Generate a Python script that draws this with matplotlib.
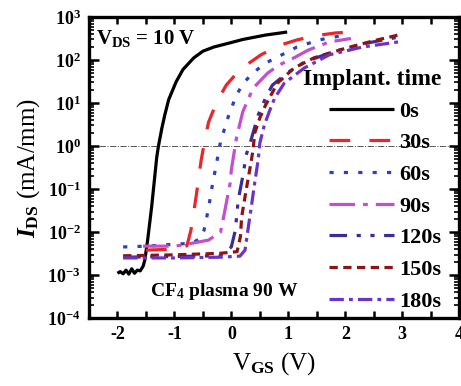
import numpy as np
import matplotlib
matplotlib.use('Agg')
import matplotlib.pyplot as plt
from matplotlib.ticker import MultipleLocator, LogLocator, FixedLocator, NullFormatter

plt.rcParams['font.family'] = 'Liberation Serif'
plt.rcParams['font.weight'] = 'bold'
plt.rcParams['mathtext.fontset'] = 'custom'
plt.rcParams['mathtext.rm'] = 'Liberation Serif:bold'
plt.rcParams['mathtext.it'] = 'Liberation Serif:italic:bold'
plt.rcParams['mathtext.bf'] = 'Liberation Serif:bold'
plt.rcParams['mathtext.default'] = 'rm'

#%%
# transfer curves, V_GS in V and I_DS in mA/mm
vgs_0 = [-2.0, -1.95, -1.9, -1.85, -1.8, -1.75, -1.7, -1.65, -1.6, -1.55, -1.52,
         -1.47, -1.40, -1.31, -1.28, -1.22, -1.17, -1.1, -0.97, -0.85, -0.66, -0.5,
         -0.31, 0.0, 0.2, 0.6, 0.98]
ids_0 = [1.1e-3, 1.2e-3, 1.07e-3, 1.3e-3, 1.05e-3, 1.4e-3, 1.1e-3, 1.3e-3, 1.25e-3,
         1.6e-3, 2.2e-3, 6.5e-3, 0.038, 0.55, 1.0, 2.6, 5.2, 12, 31, 60, 112, 160,
         200, 255, 300, 380, 447]

vgs_30 = [-1.5, -1.0, -0.78, -0.71, -0.62, -0.53, -0.46, -0.40, -0.25, -0.09, 0.15,
          0.52, 0.85, 1.16, 1.5, 1.84, 1.98]
ids_30 = [3.8e-3, 4.0e-3, 4.8e-3, 1.1e-2, 6.5e-2, 0.47, 1.5, 3.6, 11, 26, 60,
          132, 220, 295, 370, 427, 435]

vgs_60 = [-1.9, -1.5, -1.0, -0.7, -0.55, -0.48, -0.40, -0.34, -0.26, -0.19, -0.05,
          0.09, 0.22, 0.38, 0.6, 0.81, 1.15, 1.55, 2.0]
ids_60 = [4.5e-3, 4.7e-3, 5.2e-3, 5.5e-3, 7e-3, 1.1e-2, 3.6e-2, 0.11, 0.40, 1.26, 5.0,
          15.5, 30, 50, 85, 117, 200, 295, 380]

vgs_90 = [-1.55, -1.0, -0.85, -0.4, -0.19, -0.14, -0.02, 0.0, 0.09, 0.2, 0.38, 0.64,
          0.85, 1.03, 1.35, 1.72, 2.1]
ids_90 = [4.7e-3, 4.7e-3, 5.0e-3, 6.5e-3, 1.0e-2, 2.1e-2, 0.14, 0.28, 1.55, 6.2, 22,
          50, 78, 100, 170, 263, 316]

vgs_120 = [-1.9, -1.0, -0.2, 0.0, 0.07, 0.12, 0.21, 0.26, 0.33, 0.47, 0.6, 0.72,
           0.98, 1.28, 1.8, 2.4, 2.93]
ids_120 = [2.6e-3, 2.7e-3, 2.8e-3, 4.5e-3, 1.1e-2, 5.5e-2, 0.23, 0.62, 1.17, 5.2, 13,
           26, 50, 89, 158, 250, 340]

vgs_150 = [-1.9, -1.0, -0.2, 0.1, 0.16, 0.18, 0.26, 0.33, 0.38, 0.41, 0.5, 0.6, 0.81,
           1.1, 1.45, 2.02, 2.5, 2.93]
ids_150 = [2.8e-3, 2.95e-3, 3.2e-3, 3.5e-3, 7.9e-3, 2.2e-2, 9.5e-2, 0.32, 0.79, 2.0,
           4.5, 8.9, 29, 65, 112, 190, 280, 380]

vgs_180 = [-1.9, -1.0, -0.2, 0.15, 0.24, 0.29, 0.35, 0.41, 0.47, 0.5, 0.58, 0.67,
           0.76, 0.93, 1.28, 1.72, 2.3, 2.93]
ids_180 = [2.5e-3, 2.5e-3, 2.6e-3, 2.75e-3, 3.8e-3, 1.1e-2, 3.8e-2, 0.14, 0.47, 1.17,
           3.1, 6.5, 13, 29, 65, 132, 200, 263]

labels = ['0s', '30s', '60s', '90s', '120s', '150s', '180s']
colors = ['black', '#e8262b', '#2b3fc0', '#c24fcc', '#3b2c9c', '#8c1414', '#6a34cc']
dashes = [(), (6.5, 6), (1.3, 3.2), (8, 2.5, 1.5, 2.5), (5.5, 3, 1.3, 3, 1.3, 3),
          (2.6, 1.7), (4.5, 1.6, 1.2, 1.6)]

curves = [(vgs_0, ids_0), (vgs_30, ids_30), (vgs_60, ids_60), (vgs_90, ids_90),
          (vgs_120, ids_120), (vgs_150, ids_150), (vgs_180, ids_180)]

#%%
fig = plt.figure(figsize=(4.61, 3.86), dpi=100)
ax = fig.add_axes([0.193, 0.176, 0.803, 0.780])

ax.axhline(1.0, color='#555555', lw=0.7, ls='-.', zorder=1)

for (v, i), lab, c, d in zip(curves, labels, colors, dashes):
    ln, = ax.plot(v, i, color=c, lw=2.3, label=lab, solid_capstyle='butt')
    if d:
        ln.set_dashes(d)

ax.set_yscale('log')
ax.set_xlim(-2.5, 4)
ax.set_ylim(1e-4, 1e3)

ax.xaxis.set_major_locator(FixedLocator([-2, -1, 0, 1, 2, 3, 4]))
ax.set_xticklabels(['-2', '-1', '0', '1', '2', '3', '4'])
ax.xaxis.set_minor_locator(MultipleLocator(0.5))
decades = [-4, -3, -2, -1, 0, 1, 2, 3]
ax.yaxis.set_major_locator(FixedLocator([10.0 ** k for k in decades]))
ax.set_yticklabels([r'$10^{%d}$' % k for k in decades])
ax.yaxis.set_minor_locator(LogLocator(base=10, subs=np.arange(2, 10), numticks=20))
ax.yaxis.set_minor_formatter(NullFormatter())

ax.tick_params(which='both', direction='in', top=True, right=True, width=1.8,
               labelsize=13, pad=6)
ax.tick_params(axis='x', which='both', length=5)
ax.tick_params(axis='y', which='major', length=7)
ax.tick_params(axis='y', which='minor', length=3.5, width=1.2)
for s in ax.spines.values():
    s.set_linewidth(2.4)

ax.set_xlabel(r'V$_{\mathrm{GS}}$ (V)', fontsize=18, labelpad=5)
ax.set_ylabel(r'$\mathit{I}_{\mathrm{DS}}$ (mA/mm)', fontsize=18, labelpad=4)

ax.text(0.02, 0.93, r'V$_{\mathrm{DS}}$ = 10 V', transform=ax.transAxes, fontsize=15,
        va='center', ha='left')
ax.text(0.165, 0.087, r'CF$_{4}$ plasma 90 W', transform=ax.transAxes, fontsize=14,
        va='center', ha='left')

leg = ax.legend(title='Implant. time', loc='upper right', bbox_to_anchor=(0.958, 0.835),
                frameon=False, fontsize=16, title_fontproperties={'size': 17, 'weight': 'bold'},
                handlelength=2.9, handletextpad=0.25, labelspacing=0.5,
                borderpad=0.1, borderaxespad=0, alignment='right')

fig.savefig('out.png', dpi=100)
